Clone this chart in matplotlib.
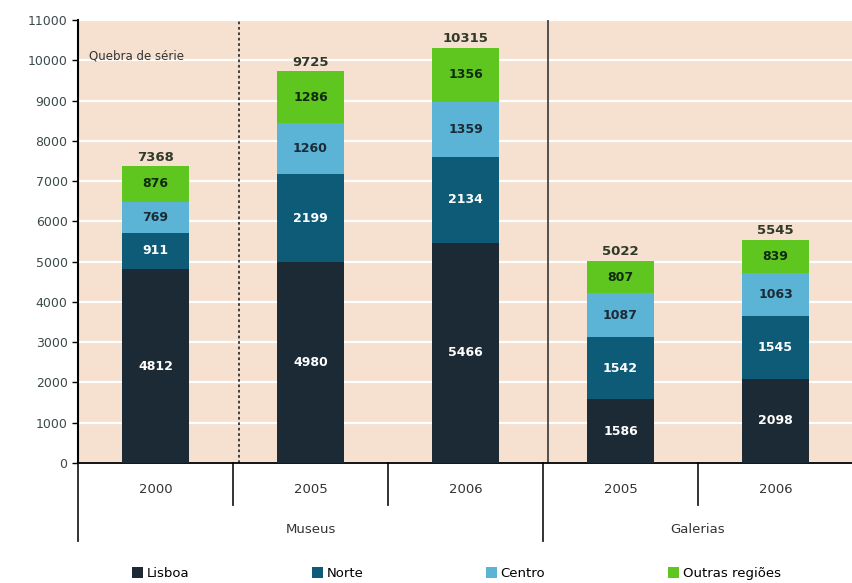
import matplotlib
matplotlib.use('Agg')
import matplotlib.pyplot as plt
import numpy as np

# data
years = ['2000', '2005', '2006', '2005', '2006']
groups = ['Museus', 'Galerias']
lisboa = [4812, 4980, 5466, 1586, 2098]
norte = [911, 2199, 2134, 1542, 1545]
centro = [769, 1260, 1359, 1087, 1063]
outras = [876, 1286, 1356, 807, 839]
totals = [7368, 9725, 10315, 5022, 5545]
series_names = ['Lisboa', 'Norte', 'Centro', 'Outras regiões']

colors = ['#1b2a35', '#0d5b77', '#5bb3d5', '#5ec61f']
label_colors = ['white', 'white', '#1b2a35', '#0f2a10']

fig = plt.figure(figsize=(8.53, 5.83), dpi=100)
ax = fig.add_axes([0.0914, 0.2058, 0.9086, 0.7599])
ax.set_facecolor('#f6e0cf')

x = np.arange(len(years))
bottom = np.zeros(len(years))
for vals, col, lc, name in zip([lisboa, norte, centro, outras], colors, label_colors, series_names):
    vals = np.array(vals)
    ax.bar(x, vals, 0.43, bottom=bottom, color=col, label=name, zorder=3)
    for xi, b, v in zip(x, bottom, vals):
        ax.text(xi, b + v / 2, str(v), ha='center', va='center', color=lc,
                fontsize=9, fontweight='bold', zorder=4)
    bottom += vals

for xi, t in zip(x, totals):
    ax.text(xi, t + 60, str(t), ha='center', va='bottom', color='#2f3a2a',
            fontsize=9.5, fontweight='bold')

ax.set_xlim(-0.5, 4.5)
ax.set_ylim(0, 11000)
ax.set_yticks(np.arange(0, 11001, 1000))
ax.tick_params(axis='y', labelsize=9, colors='#3a4a4a', length=4, width=1)
ax.tick_params(axis='y', color='black')
ax.set_xticks([])
ax.grid(axis='y', color='white', linewidth=1.6, zorder=1)
ax.set_axisbelow(True)
for s in ['top', 'right']:
    ax.spines[s].set_visible(False)
ax.spines['left'].set_linewidth(1.5)
ax.spines['bottom'].set_linewidth(1.3)

# series break and group separator
ax.axvline(0.54, color='#333333', linestyle=(0, (1.5, 1.5)), linewidth=1.3, zorder=2)
ax.axvline(2.53, color='#444444', linewidth=1.3, zorder=2)
ax.text(-0.43, 10100, 'Quebra de série', fontsize=8.5, color='#333333', va='center')

# category axis below the plot
trans = ax.get_xaxis_transform()
for xb, depth in [(-0.5, -0.175), (0.5, -0.095), (1.5, -0.095), (2.5, -0.175), (3.5, -0.095)]:
    ax.plot([xb, xb], [0, depth], color='#222222', linewidth=1.3, transform=trans, clip_on=False)
for xi, y in zip(x, years):
    ax.text(xi, -0.06, y, transform=trans, ha='center', va='center', fontsize=9.5, color='#333333')
ax.text(1.0, -0.15, groups[0], transform=trans, ha='center', va='center', fontsize=9.5, color='#333333')
ax.text(3.5, -0.15, groups[1], transform=trans, ha='center', va='center', fontsize=9.5, color='#333333')

fig.legend(loc='lower center', bbox_to_anchor=(0.535, -0.015), ncol=4, frameon=False,
           fontsize=9.5, handlelength=0.8, handleheight=0.9, handletextpad=0.3,
           columnspacing=9.3)

fig.savefig('out.png', dpi=100)
